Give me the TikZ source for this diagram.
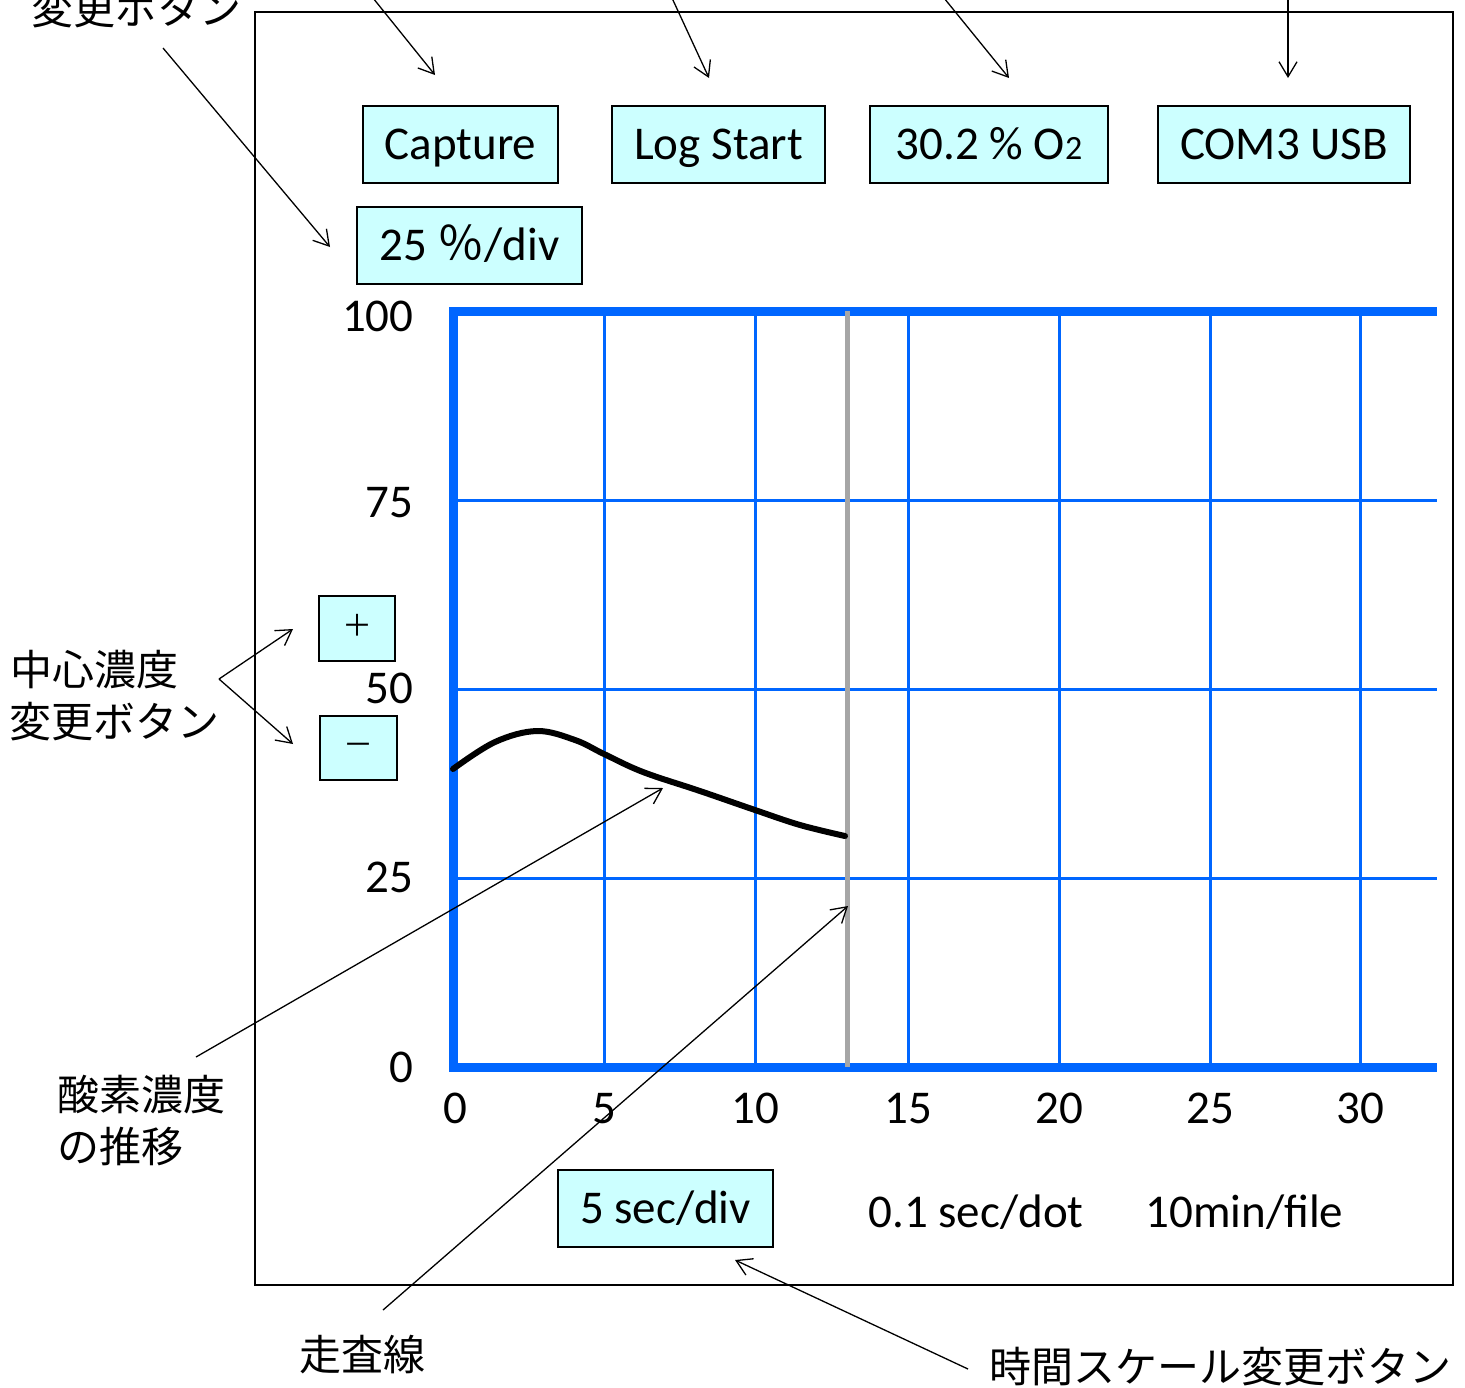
\documentclass[tikz,border=0pt]{standalone}
\usepackage{fontspec}
\setmainfont{Carlito}
\newfontfamily\cjk{Noto Sans CJK JP}
\usetikzlibrary{arrows.meta}
\definecolor{btnfill}{HTML}{CCFFFF}
\definecolor{gridblue}{HTML}{0066FF}
\definecolor{scangray}{HTML}{A6A6A6}
\tikzset{
  btn/.style={draw=black, line width=1pt, fill=btnfill, inner sep=0pt,
    font=\fontsize{23.5}{28}\selectfont, text height=15pt, text depth=0pt},
  lat/.style={inner sep=0pt, font=\fontsize{23.5}{28}\selectfont, text height=15pt, text depth=0pt},
  jlab/.style={inner sep=0pt, anchor=base west, font=\cjk\fontsize{21}{26}\selectfont},
  callout/.style={draw=black, line width=0.65pt, -{Straight Barb[length=7.5pt,width=9pt]}},
  gridln/.style={draw=gridblue, line width=1.5pt},
  axisln/.style={draw=gridblue, line width=4.5pt},
}
\begin{document}
\begin{tikzpicture}[x=0.5pt,y=-0.5pt]
\useasboundingbox (0,0) rectangle (1465,1387);

% outer frame
\draw[line width=1.25pt] (255,12) rectangle (1453,1285);

% grid
\foreach \gx in {604,755,908,1059,1210,1360}
  \draw[gridln] (\gx,311) -- (\gx,1067);
\foreach \gy in {500,689,878}
  \draw[gridln] (453,\gy) -- (1437,\gy);
% axes
\draw[axisln] (453.5,309) -- (453.5,1071.5);
\draw[axisln] (449,311) -- (1437,311);
\draw[axisln] (449,1067) -- (1437,1067);
% scan line
\draw[draw=scangray, line width=2.5pt] (847.5,311) -- (847.5,1067);
% data curve
\draw[line width=3pt, line cap=round] plot[smooth, tension=0.6] coordinates {
  (453,769) (495,742) (537,731) (575,740) (604,754) (643,772) (700,791) (755,810) (800,825) (845,836)};

% axis labels
\node[lat, anchor=east] (y100) at (414,316) {100};
\node[lat, anchor=east] (y75) at (414,502) {75};
\node[lat, anchor=east] (y50) at (414,688) {50};
\node[lat, anchor=east] (y25) at (414,877) {25};
\node[lat, anchor=east] (y0) at (414,1067) {0};
\node[lat] (x0) at (455,1108) {0};
\node[lat] (x5) at (604,1108) {5};
\node[lat] (x10) at (755,1108) {10};
\node[lat] (x15) at (908,1108) {15};
\node[lat] (x20) at (1059,1108) {20};
\node[lat] (x25) at (1210,1108) {25};
\node[lat] (x30) at (1360,1108) {30};

% buttons
\node[btn, minimum width=97.5pt, minimum height=38.5pt] (bCap) at (460.5,144.5) {Capture};
\node[btn, minimum width=106.5pt, minimum height=38.5pt] (bLog) at (718.5,144.5) {Log Start};
\node[btn, minimum width=119pt, minimum height=38.5pt] (bO2) at (989,144.5) {30.2 \% O{\fontsize{17}{20}\selectfont 2}};
\node[btn, minimum width=126pt, minimum height=38.5pt] (bCom) at (1284,144.5) {COM3 USB};
\node[btn, minimum width=112.5pt, minimum height=38.5pt] (bDiv) at (469.5,245.5) {25 {\cjk ％}/div};
\node[btn, minimum width=38pt, minimum height=32.5pt, font=\cjk\fontsize{15}{18}\selectfont, text height=7.5pt] (bPlus) at (357,628.5) {＋};
\node[btn, minimum width=38.5pt, minimum height=32pt, font=\cjk\fontsize{15}{18}\selectfont, text height=7.5pt] (bMinus) at (358.5,748) {－};
\node[btn, minimum width=107.5pt, minimum height=38.5pt] (bSec) at (665.5,1208.5) {5 sec/div};

\node[lat, anchor=west] (tDot) at (868,1212) {0.1 sec/dot};
\node[lat, anchor=west] (tFile) at (1145,1212) {10min/file};

% japanese labels
\node[jlab] (lTop) at (31,24) {変更ボタン};
\node[jlab] (lCen1) at (10,685) {中心濃度};
\node[jlab] (lCen2) at (9,737) {変更ボタン};
\node[jlab] (lOxy1) at (57,1110) {酸素濃度};
\node[jlab] (lOxy2) at (57,1162) {の推移};
\node[jlab] (lScan) at (299,1370) {走査線};
\node[jlab] (lTime) at (989,1382) {時間スケール変更ボタン};

% callout coordinates
\coordinate (sCap) at (373,-2);
\coordinate (tCap) at (435,75);
\coordinate (sLog) at (672,-2);
\coordinate (tLog) at (709,78);
\coordinate (sO2) at (944,-2);
\coordinate (tO2) at (1009,78);
\coordinate (sCom) at (1288,-2);
\coordinate (tCom) at (1288,78);
\coordinate (sDiv) at (163,48);
\coordinate (tDiv) at (330,247);
\coordinate (sCen) at (219,679);
\coordinate (tPlus) at (293,629);
\coordinate (tMinus) at (293,744);
\coordinate (sOxy) at (196,1057);
\coordinate (tOxy) at (663,788);
\coordinate (sScan) at (383,1310);
\coordinate (tScan) at (848,906);
\coordinate (sTime) at (968,1369);
\coordinate (tTime) at (735,1260);

\draw[callout] (sCap) -- (tCap);
\draw[callout] (sLog) -- (tLog);
\draw[callout] (sO2) -- (tO2);
\draw[callout] (sCom) -- (tCom);
\draw[callout] (sDiv) -- (tDiv);
\draw[callout] (sCen) -- (tPlus);
\draw[callout] (sCen) -- (tMinus);
\draw[callout] (sOxy) -- (tOxy);
\draw[callout] (sScan) -- (tScan);
\draw[callout] (sTime) -- (tTime);
\end{tikzpicture}
\end{document}
